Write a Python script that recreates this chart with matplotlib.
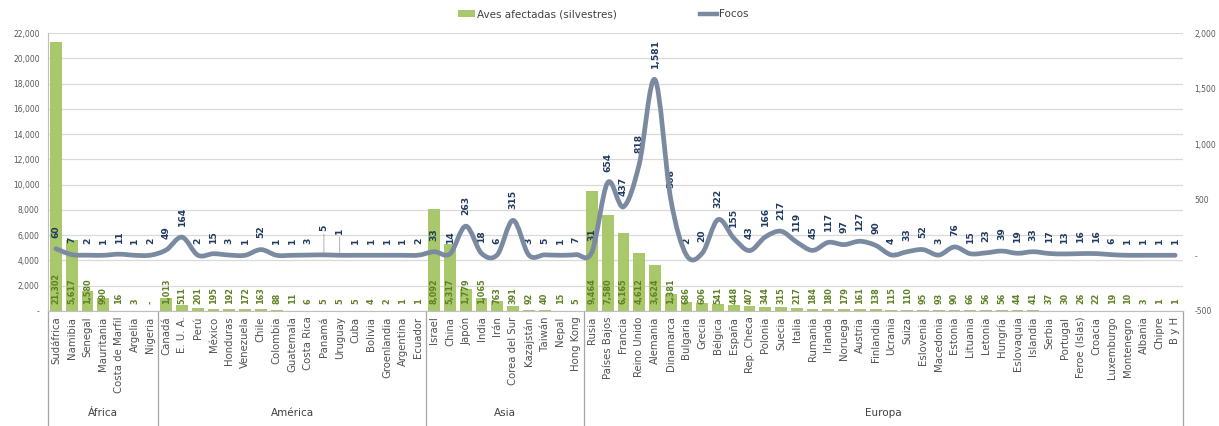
import numpy as np
import matplotlib.pyplot as plt
from matplotlib.path import Path
from matplotlib.patches import PathPatch, Patch
from matplotlib.lines import Line2D

# datos por región
paises_africa = ["Sudáfrica", "Namibia", "Senegal", "Mauritania", "Costa de Marfil", "Argelia", "Nigeria"]
aves_africa = [21302, 5617, 1580, 990, 16, 3, 0]
focos_africa = [60, 7, 2, 1, 11, 1, 2]

paises_america = ["Canadá", "E. U. A.", "Perú", "México", "Honduras", "Venezuela", "Chile", "Colombia",
                  "Guatemala", "Costa Rica", "Panamá", "Uruguay", "Cuba", "Bolivia", "Groenlandia",
                  "Argentina", "Ecuador"]
aves_america = [1013, 511, 201, 195, 192, 172, 163, 88, 11, 6, 5, 5, 5, 4, 2, 1, 1]
focos_america = [49, 164, 2, 15, 3, 1, 52, 1, 1, 3, 5, 1, 1, 1, 1, 1, 2]

paises_asia = ["Israel", "China", "Japón", "India", "Irán", "Corea del Sur", "Kazajstán", "Taiwán",
               "Nepal", "Hong Kong"]
aves_asia = [8092, 5317, 1779, 1065, 763, 391, 92, 40, 15, 5]
focos_asia = [33, 14, 263, 18, 6, 315, 3, 5, 1, 7]

paises_europa = ["Rusia", "Países Bajos", "Francia", "Reino Unido", "Alemania", "Dinamarca", "Bulgaria",
                 "Grecia", "Bélgica", "España", "Rep. Checa", "Polonia", "Suecia", "Italia", "Rumania",
                 "Irlanda", "Noruega", "Austria", "Finlandia", "Ucrania", "Suiza", "Eslovenia",
                 "Macedonia", "Estonia", "Lituania", "Letonia", "Hungría", "Eslovaquia", "Islandia",
                 "Serbia", "Portugal", "Feroe (Islas)", "Croacia", "Luxemburgo", "Montenegro",
                 "Albania", "Chipre", "B y H"]
aves_europa = [9464, 7580, 6165, 4612, 3624, 1381, 686, 606, 541, 448, 407, 344, 315, 217, 184, 180,
               179, 161, 138, 115, 110, 95, 93, 90, 66, 56, 56, 44, 41, 37, 30, 26, 22, 19, 10, 3, 1, 1]
focos_europa = [31, 654, 437, 818, 1581, 508, 2, 20, 322, 155, 43, 166, 217, 119, 45, 117, 97, 127,
                90, 4, 33, 52, 3, 76, 15, 23, 39, 19, 33, 17, 13, 16, 16, 6, 1, 1, 1, 1]

regiones = ["África", "América", "Asia", "Europa"]
grupos = [paises_africa, paises_america, paises_asia, paises_europa]

paises = paises_africa + paises_america + paises_asia + paises_europa
aves = np.array(aves_africa + aves_america + aves_asia + aves_europa)
focos = np.array(focos_africa + focos_america + focos_asia + focos_europa)
x = np.arange(len(paises))

VERDE = "#a9c76b"
VERDE_TXT = "#5f8124"
LINEA = "#7a8ba1"
AZUL_TXT = "#1f3a5f"
GRIS = "#595959"


def linea_suave(xs, ys, t=1 / 6):
    # curva tipo Catmull-Rom convertida a bezier cúbica
    n = len(xs)
    verts = [(xs[0], ys[0])]
    codes = [Path.MOVETO]
    for i in range(n - 1):
        xa, ya = (xs[i - 1], ys[i - 1]) if i > 0 else (xs[i], ys[i])
        xd, yd = (xs[i + 2], ys[i + 2]) if i + 2 < n else (xs[i + 1], ys[i + 1])
        c1 = (xs[i] + (xs[i + 1] - xa) * t, ys[i] + (ys[i + 1] - ya) * t)
        c2 = (xs[i + 1] - (xd - xs[i]) * t, ys[i + 1] - (yd - ys[i]) * t)
        verts += [c1, c2, (xs[i + 1], ys[i + 1])]
        codes += [Path.CURVE4] * 3
    return Path(verts, codes)


plt.rcParams['font.family'] = ['DejaVu Sans']
fig = plt.figure(figsize=(12.19, 4.26), dpi=100)
ax = fig.add_axes([0.0394, 0.270, 0.9311, 0.6525])
ax2 = ax.twinx()

# barras
ax.bar(x, aves, width=0.75, color=VERDE, zorder=2)
ax.set_xlim(-0.5, len(paises) - 0.5)
ax.set_ylim(0, 22000)
ax.set_yticks(np.arange(0, 22001, 2000))
ax.set_yticklabels(["-" if v == 0 else f"{v:,}" for v in range(0, 22001, 2000)], fontsize=5.5, color=GRIS)
ax.grid(axis='y', color="#d9d9d9", lw=0.9, zorder=0)
ax.set_axisbelow(True)
ax.tick_params(axis='y', length=0, pad=6)
ax.set_xticks(x, paises, rotation=90, fontsize=7.3, color="#505050")
ax.tick_params(axis='x', length=0, pad=4)
for s in ["top", "right"]:
    ax.spines[s].set_visible(False)
ax.spines["left"].set_color("#bfbfbf")
ax.spines["bottom"].set_color("#bfbfbf")

for xi, v in zip(x, aves):
    ax.text(xi, 550, "-" if v == 0 else f"{v:,}", rotation=90, ha='center', va='bottom',
            fontsize=5.9, fontweight='bold', color=VERDE_TXT, zorder=3)

# línea de focos
ax2.set_ylim(-500, 2000)
ax2.set_yticks(np.arange(-500, 2001, 500))
ax2.set_yticklabels(["-" if v == 0 else f"{v:,}" for v in range(-500, 2001, 500)], fontsize=5.5, color=GRIS)
ax2.tick_params(axis='y', length=0, pad=8)
for s in ["top", "right", "left", "bottom"]:
    ax2.spines[s].set_visible(False)
ax2.add_patch(PathPatch(linea_suave(x.astype(float), focos.astype(float)), fill=False,
                        edgecolor=LINEA, lw=3.4, capstyle='round', joinstyle='round', zorder=4))

desplazados = {paises.index("Panamá"): 17, paises.index("Uruguay"): 15}
for xi, v in zip(x, focos):
    if xi in desplazados:
        ax2.annotate(f"{v:,}", (xi, v), xytext=(0, desplazados[xi]), textcoords='offset points',
                     rotation=90, ha='center', va='bottom', fontsize=6.6, fontweight='bold', color=AZUL_TXT,
                     arrowprops=dict(arrowstyle='-', color="#a6a6a6", lw=0.6, shrinkA=0, shrinkB=2))
    else:
        ax2.annotate(f"{v:,}", (xi, v), xytext=(0, 8), textcoords='offset points',
                     rotation=90, ha='center', va='bottom', fontsize=6.6, fontweight='bold', color=AZUL_TXT)

# cuadro de categorías
trans = ax.get_xaxis_transform()
inicio = -0.5
for reg, g in zip(regiones, grupos):
    fin = inicio + len(g)
    ax.text((inicio + fin) / 2, -0.385, reg, transform=trans, ha='center', va='bottom',
            fontsize=7.5, color="#404040")
    inicio = fin
cortes = [-0.5]
for g in grupos:
    cortes.append(cortes[-1] + len(g))
for c in cortes:
    ax.plot([c, c], [0, -0.45], transform=trans, color="#a6a6a6", lw=0.9, clip_on=False)

# leyenda
manejadores = [Patch(facecolor=VERDE, edgecolor='none'), Line2D([], [], color=LINEA, lw=3.2)]
fig.legend(manejadores, ["Aves afectadas (silvestres)", "Focos"], loc='upper center',
           bbox_to_anchor=(0.495, 1.0), ncol=2, frameon=False, fontsize=7.5, columnspacing=8,
           handlelength=1.6, handletextpad=0.2, labelcolor="#404040")

fig.savefig("out.png", dpi=100)
